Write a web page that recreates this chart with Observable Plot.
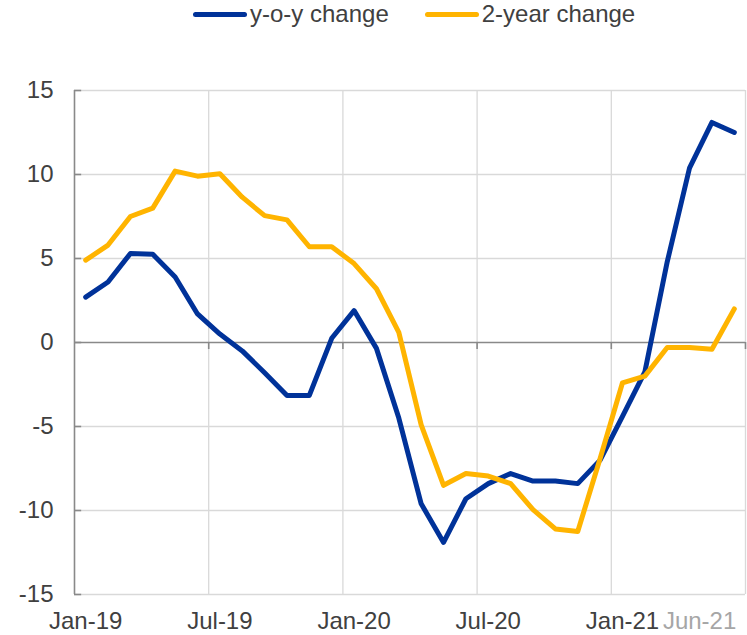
<!DOCTYPE html>
<html>
<head>
<meta charset="utf-8">
<script src="https://cdn.jsdelivr.net/npm/d3@7"></script>
<script src="https://cdn.jsdelivr.net/npm/@observablehq/plot@0.6"></script>
<style>
  body { margin: 0; background: #fff; font-family: "Liberation Sans", Arial, sans-serif; }
  #legend { position: relative; height: 30px; width: 747px; }
  #legend .items { position: absolute; left: 193px; top: 0; display: flex; align-items: center; height: 28px; }
  #legend .item { display: flex; align-items: center; margin-right: 36px; font-size: 24px; color: #404040; }
  #legend .sw { width: 54px; height: 5px; border-radius: 3px; margin-right: 3px; }
  #chart svg { display: block; }
</style>
</head>
<body>
<div id="legend"><div class="items"></div></div>
<div id="chart"></div>
<script>
// ---- data ----
const months = ["Jan-19","Feb-19","Mar-19","Apr-19","May-19","Jun-19","Jul-19","Aug-19","Sep-19","Oct-19","Nov-19","Dec-19",
                "Jan-20","Feb-20","Mar-20","Apr-20","May-20","Jun-20","Jul-20","Aug-20","Sep-20","Oct-20","Nov-20","Dec-20",
                "Jan-21","Feb-21","Mar-21","Apr-21","May-21","Jun-21"];
const yoyChange = [2.7, 3.6, 5.3, 5.25, 3.9, 1.7, 0.5, -0.5, -1.8, -3.15, -3.15, 0.25,
                   1.9, -0.35, -4.5, -9.6, -11.9, -9.3, -8.4, -7.8, -8.25, -8.25, -8.4, -7.0,
                   -4.4, -1.75, 4.8, 10.4, 13.1, 12.5];
const twoYearChange = [4.9, 5.8, 7.5, 8.0, 10.2, 9.9, 10.05, 8.65, 7.55, 7.3, 5.7, 5.7,
                       4.7, 3.2, 0.6, -4.9, -8.5, -7.8, -7.95, -8.4, -9.95, -11.1, -11.25, -6.9,
                       -2.4, -2.0, -0.3, -0.3, -0.4, 2.0];
const seriesNames = ["y-o-y change", "2-year change"];
const seriesColors = ["#003299", "#FFB400"];
const xTickMonths = ["Jan-19","Jul-19","Jan-20","Jul-20","Jan-21"];
const lastTickMonth = "Jun-21";
const xGridMonths = [6, 12, 18, 24, 30];   // month boundaries (index)
const yTicks = [-15, -10, -5, 0, 5, 10, 15];

// ---- legend ----
const items = document.querySelector("#legend .items");
seriesNames.forEach((name, k) => {
  const it = document.createElement("div");
  it.className = "item";
  const sw = document.createElement("div");
  sw.className = "sw";
  sw.style.background = seriesColors[k];
  const tx = document.createElement("span");
  tx.textContent = name;
  it.appendChild(sw); it.appendChild(tx);
  items.appendChild(it);
});

// ---- chart ----
const data = months.map((m, i) => ({month: m, i: i + 0.5, yoy: yoyChange[i], two: twoYearChange[i]}));
const tickIdx = xTickMonths.map(m => months.indexOf(m) + 0.5);
const lastIdx = months.indexOf(lastTickMonth) + 0.5;

const chart = Plot.plot({
  width: 747,
  height: 605,
  marginTop: 60,
  marginBottom: 41,
  marginLeft: 74,
  marginRight: 2,
  x: {domain: [0, 30], axis: null},
  y: {domain: [-15, 15], axis: null},
  style: {fontFamily: "'Liberation Sans', Arial, sans-serif", fontSize: "24px", color: "#404040", background: "#fff"},
  marks: [
    Plot.ruleY(yTicks.filter(d => d !== 0), {stroke: "#d9d9d9", strokeWidth: 1.3}),
    Plot.ruleX(xGridMonths, {stroke: "#d9d9d9", strokeWidth: 1.3}),
    Plot.ruleY([0], {stroke: "#898989", strokeWidth: 1.6}),
    Plot.ruleX([0], {stroke: "#898989", strokeWidth: 1.6}),
    Plot.ruleY(yTicks, {x1: 0, x2: 0.32, stroke: "#898989", strokeWidth: 1.6}),
    Plot.ruleX(xGridMonths, {y1: 0, y2: -0.42, stroke: "#898989", strokeWidth: 1.6}),
    Plot.text(yTicks, {x: 0, y: d => d, text: d => String(d), textAnchor: "end", dx: -21, fill: "#404040", fontSize: 24}),
    Plot.text(xTickMonths, {x: (d, i) => tickIdx[i], y: -15, dy: 27, text: d => d, fill: "#404040", fontSize: 24}),
    Plot.text([lastTickMonth], {x: lastIdx, y: -15, dy: 27, dx: 2, textAnchor: "end", text: d => d, fill: "#a6a6a6", fontSize: 24}),
    Plot.line(data, {x: "i", y: "yoy", stroke: seriesColors[0], strokeWidth: 5, strokeLinecap: "round", strokeLinejoin: "round"}),
    Plot.line(data, {x: "i", y: "two", stroke: seriesColors[1], strokeWidth: 5, strokeLinecap: "round", strokeLinejoin: "round"})
  ]
});
document.getElementById("chart").appendChild(chart);
</script>
</body>
</html>
